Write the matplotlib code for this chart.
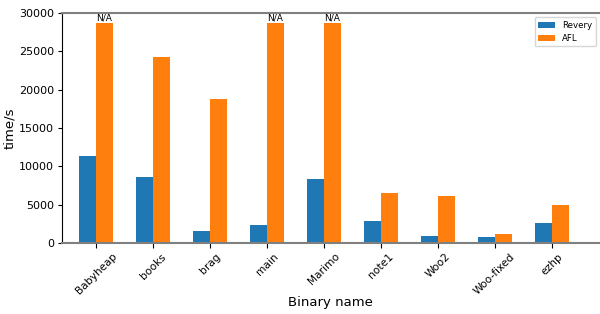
import numpy as np
import matplotlib
matplotlib.use("Agg")
import matplotlib.pyplot as plt

# binaries and timings (seconds)
names = ["Babyheap", "books", "brag", "main", "Marimo", "note1", "Woo2", "Woo-fixed", "ezhp"]
revery = [11400, 8650, 1600, 2400, 8400, 2900, 950, 800, 2600]
afl = [28700, 24300, 18800, 28700, 28700, 6550, 6150, 1200, 5000]
na_flags = [True, False, False, True, True, False, False, False, False]

x = np.arange(len(names))
w = 0.3

fig = plt.figure(figsize=(6, 3.14), dpi=100)
ax = fig.add_axes([0.103, 0.226, 0.897, 0.733])

ax.bar(x - w / 2, revery, w, color="#1f77b4", label="Revery")
ax.bar(x + w / 2, afl, w, color="#ff7f0e", label="AFL")

for i, flag in enumerate(na_flags):
    if flag:
        ax.text(x[i] + w / 2, afl[i] + 100, "N/A", ha="center", va="bottom", fontsize=6.5)

ax.set_xticks(x)
ax.set_xticklabels(names, rotation=45, fontsize=7.7)
ax.tick_params(axis="x", pad=2.5)
ax.tick_params(axis="y", labelsize=8, length=3, pad=2.5)
ax.set_xlim(-0.6, 8.85)
ax.set_ylim(0, 30000)
ax.set_ylabel("time/s", fontsize=9.5, labelpad=2)
ax.set_xlabel("Binary name", fontsize=9.5, labelpad=0)

ax.spines["right"].set_visible(False)
ax.spines["top"].set_color("#808080")
ax.spines["bottom"].set_color("#808080")
ax.spines["top"].set_linewidth(1.5)
ax.spines["bottom"].set_linewidth(1.5)

ax.legend(loc="upper right", fontsize=6.2)

fig.savefig("out.png", dpi=100)
